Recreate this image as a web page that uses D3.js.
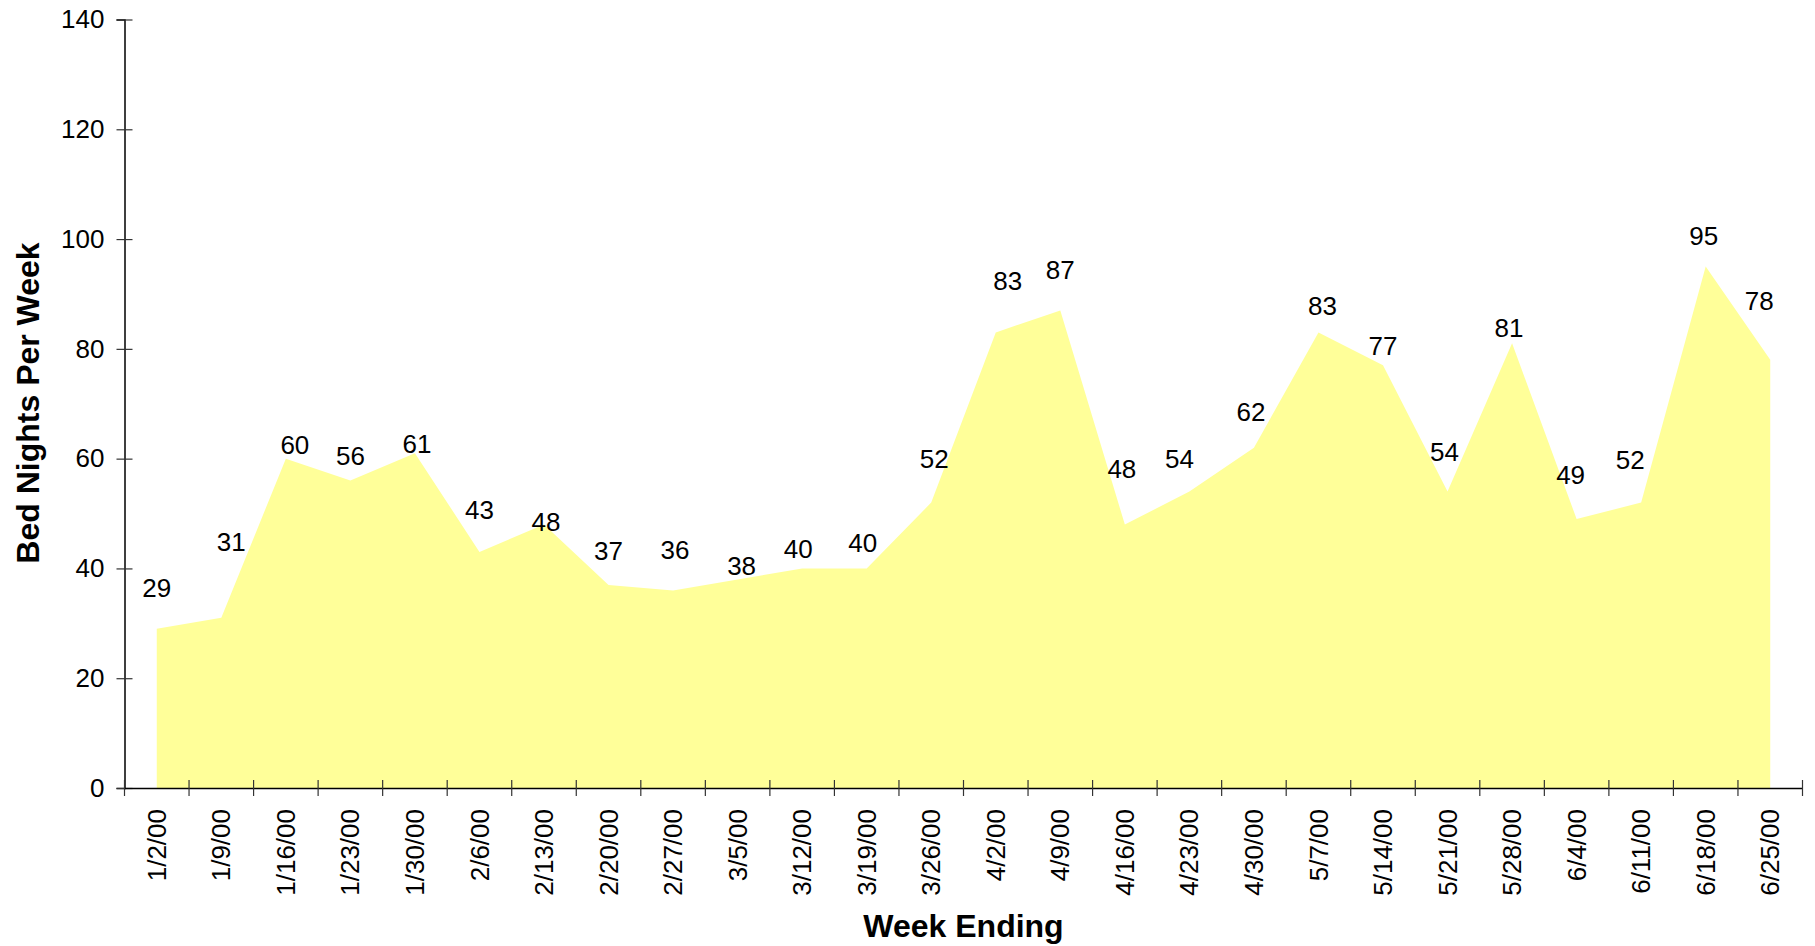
<!DOCTYPE html>
<html>
<head>
<meta charset="utf-8">
<script src="https://cdn.jsdelivr.net/npm/d3@7"></script>
<style>
  html, body { margin: 0; padding: 0; background: #ffffff; }
  svg { display: block; font-family: "Liberation Sans", Arial, sans-serif; }
</style>
</head>
<body>
<svg id="chart" width="1815" height="946"></svg>
<script>
// ---- data ----
const weeks = ["1/2/00","1/9/00","1/16/00","1/23/00","1/30/00","2/6/00","2/13/00","2/20/00","2/27/00",
  "3/5/00","3/12/00","3/19/00","3/26/00","4/2/00","4/9/00","4/16/00","4/23/00","4/30/00",
  "5/7/00","5/14/00","5/21/00","5/28/00","6/4/00","6/11/00","6/18/00","6/25/00"];
const bedNights = [29,31,60,56,61,43,48,37,36,38,40,40,52,83,87,48,54,62,83,77,54,81,49,52,95,78];
const yTicks = [0,20,40,60,80,100,120,140];
const yTitle = "Bed Nights Per Week";
const xTitle = "Week Ending";

// ---- label nudges (layout, in px, relative to the data point) ----
const labelDx = [0,10,9,0,2,0,2,0,2,4,-4,-4,3,12,0,-3,-10,-3,4,0,-3,-3,-6,-11,-2,-11];
const labelDy = [-41,-76,-14,-25,-9,-42,-3,-34,-40,-13,-19,-25,-44,-51,-40,-56,-33,-36,-26,-19,-40,-15,-44,-43,-31,-59];

// ---- layout ----
const plotLeft = 124.5, plotRight = 1802.5, plotTop = 19.5, plotBottom = 788;
const fontSize = 26, titleSize = 32;
const svg = d3.select("#chart");

const x = d3.scaleBand().domain(weeks).range([plotLeft, plotRight]).padding(0);
const y = d3.scaleLinear().domain([0, 140]).range([plotBottom, plotTop]);
const xc = d => x(d) + x.bandwidth() / 2;

// area
const area = d3.area()
  .x((d, i) => xc(weeks[i]))
  .y0(y(0))
  .y1(d => y(d));
svg.append("path")
  .datum(bedNights)
  .attr("d", area)
  .attr("fill", "#ffff99")
  .attr("stroke", "none");

// y axis
const yAxis = svg.append("g")
  .attr("transform", `translate(${plotLeft},0)`)
  .call(d3.axisLeft(y).tickValues(yTicks).tickSize(8).tickPadding(12).tickFormat(d3.format("d")));
yAxis.select(".domain").attr("stroke", "#000").attr("stroke-width", 1.5);
yAxis.selectAll(".tick line").attr("x1", -8).attr("x2", 8).attr("stroke", "#333").attr("stroke-width", 1.2);
yAxis.selectAll(".tick text").attr("font-size", fontSize).attr("fill", "#000")
  .attr("font-family", "'Liberation Sans', Arial, sans-serif");

// x axis (labels at band centres, ticks at band boundaries)
const xAxis = svg.append("g")
  .attr("transform", `translate(0,${plotBottom})`)
  .call(d3.axisBottom(x).tickSize(0).tickPadding(0));
xAxis.select(".domain").attr("stroke", "#000").attr("stroke-width", 1.5);
xAxis.selectAll(".tick text")
  .attr("font-size", fontSize).attr("fill", "#000")
  .attr("font-family", "'Liberation Sans', Arial, sans-serif")
  .attr("text-anchor", "end")
  .attr("transform", "rotate(-90)")
  .attr("x", -21)
  .attr("y", 0)
  .attr("dy", "0.35em");

const boundaries = d3.range(weeks.length + 1).map(i => plotLeft + i * x.step());
xAxis.selectAll("line.boundary")
  .data(boundaries)
  .enter().append("line")
  .attr("class", "boundary")
  .attr("x1", d => d).attr("x2", d => d)
  .attr("y1", -8).attr("y2", 8)
  .attr("stroke", "#333").attr("stroke-width", 1.2);

// data labels
svg.append("g").selectAll("text")
  .data(bedNights)
  .enter().append("text")
  .attr("x", (d, i) => xc(weeks[i]) + labelDx[i])
  .attr("y", (d, i) => y(d) + labelDy[i])
  .attr("text-anchor", "middle")
  .attr("dominant-baseline", "central")
  .attr("font-size", fontSize)
  .attr("fill", "#000")
  .text(d => d);

// titles
svg.append("text")
  .attr("transform", `translate(28,403) rotate(-90)`)
  .attr("text-anchor", "middle")
  .attr("dominant-baseline", "central")
  .attr("font-size", titleSize)
  .attr("font-weight", "bold")
  .attr("fill", "#000")
  .text(yTitle);

svg.append("text")
  .attr("x", (plotLeft + plotRight) / 2)
  .attr("y", 926)
  .attr("text-anchor", "middle")
  .attr("dominant-baseline", "central")
  .attr("font-size", titleSize)
  .attr("font-weight", "bold")
  .attr("fill", "#000")
  .text(xTitle);
</script>
</body>
</html>
